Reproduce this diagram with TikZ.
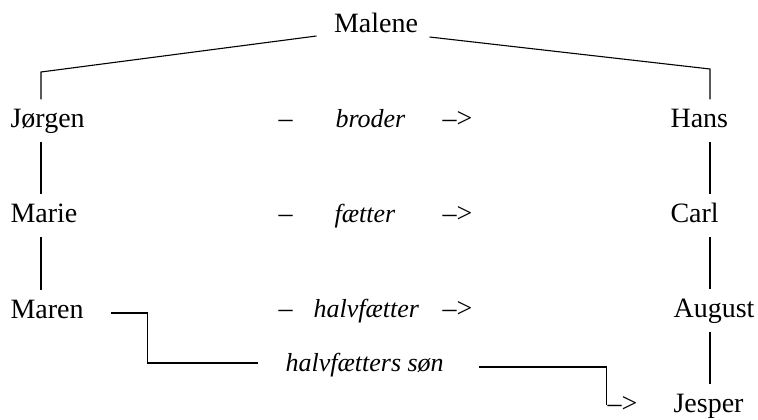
\documentclass[tikz,border=0pt]{standalone}
\usepackage{fontspec}
\setmainfont{Liberation Serif}

\begin{document}
\begin{tikzpicture}[x=1pt, y=-1pt, line width=1.1pt, font=\fontsize{28}{32}\selectfont]
                \tikzstyle{person}=[anchor=base west, inner xsep=0pt, inner ysep=8pt, text height=19pt, text depth=6pt]
                \tikzstyle{rel}=[anchor=base west, inner sep=0pt, font=\fontsize{26}{30}\selectfont\itshape]
                \tikzstyle{sign}=[anchor=base west, inner sep=0pt]
                \useasboundingbox (0,0) rectangle (758,420);

                \node[anchor=base, inner sep=0pt]  (M) at (376,33)  {Malene};
                \node[person]  (A) at (10,127)   {Jørgen};
                \node[person]  (B) at (10,222)   {Marie};
                \node[person]  (C) at (10,318)   {Maren};
                \node[person]  (D) at (670,127)  {Hans};
                \node[person]  (E) at (670,222)  {Carl};
                \node[person]  (F) at (673,317)  {August};
                \node[person]  (G) at (673,412)  {Jesper};

                \node[sign]  (d1) at (278,127)  {–};
                \node[rel]   (r1) at (335,127)  {broder};
                \node[sign]  (a1) at (442,127)  {–>};
                \node[sign]  (d2) at (278,222)  {–};
                \node[rel]   (r2) at (334,222)  {fætter};
                \node[sign]  (a2) at (442,222)  {–>};
                \node[sign]  (d3) at (278,317)  {–};
                \node[rel]   (r3) at (313,317)  {halvfætter};
                \node[sign]  (a3) at (442,317)  {–>};
                \node[rel]   (r4) at (285,371)  {halvfætters søn};
                \node[sign]  (a4) at (607,412)  {–>};

                \coordinate (L) at (41,72);
                \coordinate (R) at (710,69);

                \draw ([shift={(-17,3)}]M.base west) -- (L) -- (L |- A.north);
                \draw ([shift={(11,4)}]M.base east) -- (R) -- (R |- D.north);
                \draw (L |- A.south) -- (L |- B.north);
                \draw (L |- B.south) -- (L |- C.north);
                \draw (R |- D.south) -- (R |- E.north);
                \draw (R |- E.south) -- (R |- F.north);
                \draw (R |- F.south) -- (R |- G.north);
                \draw ([shift={(27,-5)}]C.base east) -- ++(36,0) |- ([shift={(-27,-8)}]r4.base west);
                \draw ([shift={(35,-4)}]r4.base east) -- ++(127,0) |- (a4.west);
            \end{tikzpicture}
\end{document}
